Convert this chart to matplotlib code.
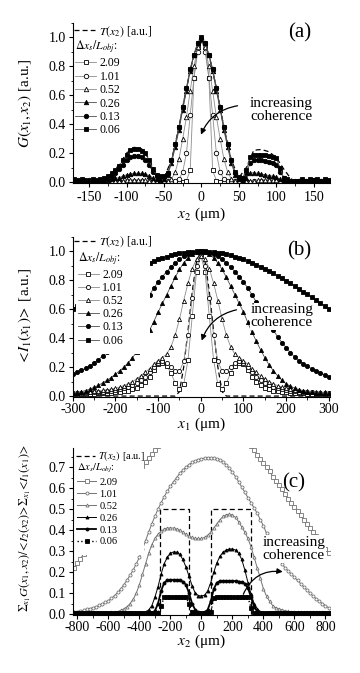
import numpy as np
import matplotlib
matplotlib.use('Agg')
import matplotlib.pyplot as plt
from matplotlib.patches import Rectangle
from matplotlib.ticker import MultipleLocator, FormatStrFormatter

plt.rcParams['font.family'] = ['Liberation Serif', 'DejaVu Serif']
plt.rcParams['mathtext.fontset'] = 'stix'
plt.rcParams['axes.unicode_minus'] = False

labels = ['2.09', '1.01', '0.52', '0.26', '0.13', '0.06']

# ---- panel (a): G(x1, x2) vs x2
a_x = np.arange(-170, 175, 5)
a_209 = [0.003, 0.002, 0.003, 0.002, 0.003, 0.002, 0.003, 0.002, 0.003, 0.002,
         0.003, 0.002, 0.003, 0.002, 0.003, 0.002, 0.003, 0.002, 0.003, 0.002,
         0.003, 0.002, 0.003, 0.002, 0.003, 0.002, 0.003, 0.002, 0.003, 0.003,
         0.01, 0.08, 0.72, 0.94, 0.98, 0.94, 0.72, 0.08, 0.01, 0.003,
         0.003, 0.002, 0.003, 0.002, 0.003, 0.002, 0.003, 0.002, 0.003, 0.002,
         0.003, 0.002, 0.003, 0.002, 0.003, 0.002, 0.003, 0.002, 0.003, 0.002,
         0.003, 0.002, 0.003, 0.002, 0.003, 0.002, 0.003, 0.002, 0.003]
a_101 = [0.004, 0.003, 0.004, 0.003, 0.004, 0.003, 0.004, 0.003, 0.004, 0.003,
         0.004, 0.003, 0.004, 0.003, 0.004, 0.003, 0.004, 0.003, 0.004, 0.003,
         0.004, 0.003, 0.004, 0.003, 0.004, 0.004, 0.005, 0.01, 0.02, 0.07,
         0.2, 0.46, 0.72, 0.9, 0.98, 0.9, 0.72, 0.46, 0.2, 0.07,
         0.02, 0.01, 0.005, 0.004, 0.004, 0.003, 0.004, 0.003, 0.004, 0.003,
         0.004, 0.003, 0.004, 0.003, 0.004, 0.003, 0.004, 0.003, 0.004, 0.003,
         0.004, 0.003, 0.004, 0.003, 0.004, 0.003, 0.004, 0.003, 0.004]
a_052 = [0.005, 0.006, 0.005, 0.006, 0.005, 0.006, 0.005, 0.006, 0.005, 0.006,
         0.006, 0.007, 0.008, 0.01, 0.012, 0.014, 0.015, 0.015, 0.014, 0.012,
         0.01, 0.008, 0.006, 0.005, 0.008, 0.01, 0.02, 0.07, 0.16, 0.3,
         0.45, 0.63, 0.8, 0.93, 0.98, 0.93, 0.8, 0.63, 0.45, 0.3,
         0.16, 0.07, 0.02, 0.01, 0.008, 0.005, 0.006, 0.008, 0.01, 0.012,
         0.014, 0.015, 0.015, 0.014, 0.012, 0.01, 0.008, 0.006, 0.005, 0.006,
         0.005, 0.006, 0.005, 0.006, 0.005, 0.006, 0.005, 0.006, 0.005]
a_026 = [0.005, 0.01, 0.005, 0.008, 0.01, 0.005, 0.008, 0.01, 0.01, 0.015,
         0.02, 0.025, 0.03, 0.04, 0.05, 0.055, 0.06, 0.06, 0.06, 0.055,
         0.045, 0.03, 0.02, 0.015, 0.02, 0.05, 0.13, 0.24, 0.36, 0.5,
         0.63, 0.77, 0.88, 0.96, 0.99, 0.96, 0.88, 0.77, 0.63, 0.5,
         0.36, 0.24, 0.13, 0.05, 0.02, 0.01, 0.03, 0.06, 0.065, 0.06,
         0.055, 0.05, 0.045, 0.04, 0.035, 0.02, 0.01, 0.008, 0.005, 0.008,
         0.005, 0.01, 0.005, 0.008, 0.01, 0.005, 0.008, 0.01, 0.005]
a_013 = [0.01, 0.015, 0.01, 0.01, 0.015, 0.01, 0.01, 0.015, 0.02, 0.03,
         0.045, 0.06, 0.09, 0.12, 0.15, 0.17, 0.18, 0.18, 0.17, 0.15,
         0.12, 0.07, 0.04, 0.035, 0.035, 0.06, 0.15, 0.26, 0.38, 0.52,
         0.65, 0.78, 0.88, 0.96, 0.99, 0.96, 0.88, 0.78, 0.65, 0.52,
         0.38, 0.26, 0.15, 0.065, 0.03, 0.025, 0.06, 0.13, 0.15, 0.15,
         0.15, 0.145, 0.14, 0.135, 0.12, 0.07, 0.03, 0.015, 0.01, 0.01,
         0.01, 0.015, 0.01, 0.01, 0.015, 0.01, 0.01, 0.015, 0.01]
a_006 = [0.02, 0.01, 0.02, 0.015, 0.01, 0.02, 0.015, 0.02, 0.03, 0.04,
         0.06, 0.08, 0.11, 0.15, 0.19, 0.22, 0.23, 0.225, 0.215, 0.2,
         0.15, 0.09, 0.05, 0.045, 0.04, 0.06, 0.15, 0.26, 0.38, 0.52,
         0.65, 0.78, 0.88, 0.96, 1.0, 0.96, 0.88, 0.78, 0.65, 0.52,
         0.38, 0.26, 0.15, 0.07, 0.035, 0.03, 0.08, 0.17, 0.19, 0.19,
         0.19, 0.185, 0.18, 0.175, 0.165, 0.1, 0.03, 0.02, 0.01, 0.005,
         0.01, 0.02, 0.01, 0.02, 0.015, 0.02, 0.01, 0.02, 0.015]
a_tx = [-170, -130, -120, -110, -100, -90, -80, -70, -60, -50,
        -40, -30, -20, -10, 0, 10, 20, 30, 40, 50,
        60, 70, 80, 90, 100, 110, 120, 130, 170]
a_t = [0, 0, 0.06, 0.12, 0.2, 0.24, 0.23, 0.16, 0.05, 0.03,
       0.15, 0.38, 0.65, 0.88, 1.0, 0.88, 0.65, 0.38, 0.15, 0.03,
       0.1, 0.22, 0.225, 0.21, 0.17, 0.09, 0.02, 0, 0]

# ---- panel (b): <I1(x1)> vs x1
b_x = np.arange(-300, 310, 10)
b_209 = [0.014, 0.014, 0.015, 0.015, 0.016, 0.017, 0.018, 0.019, 0.02, 0.022,
         0.025, 0.028, 0.032, 0.038, 0.046, 0.058, 0.075, 0.1, 0.13, 0.18,
         0.22, 0.23, 0.21, 0.16, 0.09, 0.05, 0.08, 0.25, 0.55, 0.86,
         0.97,
         0.86, 0.55, 0.25, 0.08, 0.05, 0.09, 0.16, 0.21, 0.23, 0.22,
         0.18, 0.13, 0.1, 0.075, 0.058, 0.046, 0.038, 0.032, 0.028, 0.025,
         0.022, 0.02, 0.019, 0.018, 0.017, 0.016, 0.015, 0.015, 0.014, 0.014]
b_101 = [0.02, 0.021, 0.022, 0.023, 0.025, 0.026, 0.028, 0.03, 0.033, 0.036,
         0.04, 0.046, 0.053, 0.063, 0.075, 0.09, 0.11, 0.135, 0.165, 0.2,
         0.23, 0.24, 0.23, 0.2, 0.17, 0.17, 0.24, 0.42, 0.68, 0.9,
         0.97,
         0.9, 0.68, 0.42, 0.24, 0.17, 0.17, 0.2, 0.23, 0.24, 0.23,
         0.2, 0.165, 0.135, 0.11, 0.09, 0.075, 0.063, 0.053, 0.046, 0.04,
         0.036, 0.033, 0.03, 0.028, 0.026, 0.025, 0.023, 0.022, 0.021, 0.02]
b_052 = [0.024, 0.025, 0.026, 0.028, 0.03, 0.032, 0.035, 0.039, 0.043, 0.048,
         0.054, 0.062, 0.072, 0.085, 0.1, 0.12, 0.14, 0.165, 0.19, 0.22,
         0.245, 0.265, 0.29, 0.34, 0.42, 0.53, 0.66, 0.78, 0.88, 0.95,
         0.97,
         0.95, 0.88, 0.78, 0.66, 0.53, 0.42, 0.34, 0.29, 0.265, 0.245,
         0.22, 0.19, 0.165, 0.14, 0.12, 0.1, 0.085, 0.072, 0.062, 0.054,
         0.048, 0.043, 0.039, 0.035, 0.032, 0.03, 0.028, 0.026, 0.025, 0.024]
b_026 = [0.02, 0.024, 0.03, 0.038, 0.048, 0.06, 0.074, 0.09, 0.108, 0.128,
         0.15, 0.175, 0.2, 0.23, 0.265, 0.305, 0.35, 0.4, 0.455, 0.515,
         0.58, 0.64, 0.7, 0.76, 0.82, 0.875, 0.92, 0.955, 0.98, 0.995,
         1.0,
         0.995, 0.98, 0.955, 0.92, 0.875, 0.82, 0.76, 0.7, 0.64, 0.58,
         0.51, 0.44, 0.38, 0.32, 0.265, 0.215, 0.175, 0.14, 0.11, 0.085,
         0.068, 0.055, 0.045, 0.037, 0.031, 0.027, 0.024, 0.021, 0.019, 0.018]
b_013 = [0.15, 0.163, 0.177, 0.192, 0.21, 0.23, 0.252, 0.276, 0.302, 0.33,
         0.36, 0.395, 0.43, 0.47, 0.51, 0.555, 0.6, 0.65, 0.7, 0.745,
         0.79, 0.825, 0.86, 0.89, 0.92, 0.945, 0.965, 0.98, 0.99, 0.998,
         1.0,
         0.998, 0.99, 0.98, 0.965, 0.945, 0.92, 0.89, 0.86, 0.825, 0.79,
         0.745, 0.7, 0.65, 0.6, 0.55, 0.5, 0.455, 0.41, 0.37, 0.335,
         0.3, 0.27, 0.245, 0.225, 0.205, 0.19, 0.175, 0.16, 0.147, 0.135]
b_006 = [0.601, 0.622, 0.642, 0.662, 0.682, 0.702, 0.722, 0.741, 0.76, 0.779,
         0.797, 0.815, 0.832, 0.849, 0.865, 0.88, 0.895, 0.909, 0.922, 0.934,
         0.945, 0.955, 0.964, 0.973, 0.98, 0.986, 0.991, 0.995, 0.998, 1.0,
         1.0,
         1.0, 0.998, 0.995, 0.991, 0.986, 0.98, 0.973, 0.964, 0.955, 0.945,
         0.934, 0.922, 0.909, 0.895, 0.88, 0.865, 0.849, 0.832, 0.815, 0.797,
         0.779, 0.76, 0.741, 0.722, 0.702, 0.682, 0.662, 0.642, 0.622, 0.601]
b_tx = [-300, -60, -50, -40, -30, -20, -10, 0, 10, 20, 30, 40, 50, 60, 300]
b_t = [0, 0, 0.03, 0.2, 0.45, 0.72, 0.93, 1.0, 0.93, 0.72, 0.45, 0.2, 0.03, 0, 0]

# ---- panel (c): normalised correlation vs x2
c_x = np.arange(-820, 840, 20)
c_209 = [0.22, 0.242, 0.264, 0.286, 0.308, 0.33, 0.352, 0.374, 0.396, 0.418,
         0.44, 0.462, 0.484, 0.506, 0.528, 0.55, 0.572, 0.594, 0.616, 0.638,
         0.66, 0.682, 0.704, 0.724, 0.744, 0.762, 0.78, 0.8, 0.82, 0.84,
         0.855, 0.87, 0.885, 0.9, 0.91, 0.92, 0.93, 0.935, 0.94, 0.945,
         0.95, 0.95, 0.95, 0.945, 0.94, 0.935, 0.925, 0.915, 0.905, 0.895,
         0.88, 0.87, 0.86, 0.85, 0.84, 0.83, 0.82, 0.8, 0.78, 0.76,
         0.74, 0.72, 0.7, 0.68, 0.655, 0.635, 0.615, 0.595, 0.57, 0.55,
         0.53, 0.51, 0.49, 0.47, 0.45, 0.43, 0.41, 0.39, 0.37, 0.35,
         0.33, 0.31, 0.29]
c_101 = [0.01, 0.012, 0.015, 0.018, 0.022, 0.026, 0.03, 0.035, 0.041, 0.048,
         0.056, 0.064, 0.075, 0.088, 0.103, 0.12, 0.14, 0.162, 0.185, 0.21,
         0.24, 0.27, 0.31, 0.35, 0.39, 0.43, 0.465, 0.5, 0.53, 0.56,
         0.585, 0.61, 0.63, 0.65, 0.67, 0.685, 0.7, 0.712, 0.722, 0.73,
         0.736, 0.74, 0.743, 0.745, 0.744, 0.742, 0.74, 0.735, 0.725, 0.71,
         0.695, 0.675, 0.655, 0.63, 0.605, 0.58, 0.555, 0.53, 0.505, 0.48,
         0.45, 0.42, 0.385, 0.35, 0.315, 0.285, 0.26, 0.24, 0.22, 0.205,
         0.19, 0.175, 0.16, 0.145, 0.13, 0.115, 0.1, 0.086, 0.073, 0.061,
         0.05, 0.04, 0.03]
c_052 = [0.005, 0.005, 0.005, 0.005, 0.005, 0.005, 0.005, 0.005, 0.005, 0.005,
         0.006, 0.007, 0.008, 0.01, 0.012, 0.018, 0.025, 0.035, 0.05, 0.07,
         0.1, 0.14, 0.19, 0.24, 0.29, 0.33, 0.36, 0.38, 0.395, 0.405,
         0.41, 0.41, 0.41, 0.405, 0.4, 0.39, 0.38, 0.37, 0.365, 0.36,
         0.36, 0.36, 0.365, 0.375, 0.39, 0.41, 0.43, 0.45, 0.465, 0.473,
         0.476, 0.472, 0.46, 0.44, 0.415, 0.39, 0.36, 0.32, 0.27, 0.22,
         0.17, 0.12, 0.085, 0.06, 0.04, 0.03, 0.025, 0.02, 0.016, 0.013,
         0.011, 0.01, 0.01, 0.01, 0.01, 0.01, 0.01, 0.01, 0.01, 0.01,
         0.01, 0.01, 0.01]
c_026 = [0.005, 0.005, 0.005, 0.005, 0.005, 0.005, 0.005, 0.005, 0.005, 0.005,
         0.005, 0.005, 0.005, 0.005, 0.005, 0.005, 0.005, 0.005, 0.005, 0.005,
         0.005, 0.005, 0.006, 0.01, 0.02, 0.04, 0.08, 0.13, 0.19, 0.24,
         0.27, 0.29, 0.296, 0.295, 0.285, 0.26, 0.225, 0.18, 0.135, 0.1,
         0.088, 0.086, 0.09, 0.11, 0.15, 0.2, 0.245, 0.275, 0.295, 0.305,
         0.31, 0.31, 0.305, 0.29, 0.26, 0.21, 0.15, 0.095, 0.05, 0.025,
         0.012, 0.006, 0.005, 0.005, 0.005, 0.005, 0.005, 0.005, 0.005, 0.005,
         0.005, 0.005, 0.005, 0.005, 0.005, 0.005, 0.005, 0.005, 0.005, 0.005,
         0.005, 0.005, 0.005]
c_013 = [0.005, 0.005, 0.005, 0.005, 0.005, 0.005, 0.005, 0.005, 0.005, 0.005,
         0.005, 0.005, 0.005, 0.005, 0.005, 0.005, 0.005, 0.005, 0.005, 0.005,
         0.005, 0.005, 0.005, 0.005, 0.005, 0.006, 0.015, 0.05, 0.11, 0.15,
         0.16, 0.163, 0.163, 0.162, 0.16, 0.155, 0.14, 0.1, 0.05, 0.02,
         0.008, 0.005, 0.008, 0.02, 0.06, 0.12, 0.15, 0.157, 0.158, 0.158,
         0.158, 0.158, 0.157, 0.155, 0.152, 0.145, 0.125, 0.08, 0.035, 0.012,
         0.006, 0.005, 0.005, 0.005, 0.005, 0.005, 0.005, 0.005, 0.005, 0.005,
         0.005, 0.005, 0.005, 0.005, 0.005, 0.005, 0.005, 0.005, 0.005, 0.005,
         0.005, 0.005, 0.005]
c_006 = [0.004, 0.004, 0.004, 0.004, 0.004, 0.004, 0.004, 0.004, 0.004, 0.004,
         0.004, 0.004, 0.004, 0.004, 0.004, 0.004, 0.004, 0.004, 0.004, 0.004,
         0.004, 0.004, 0.004, 0.004, 0.004, 0.004, 0.004, 0.006, 0.04, 0.08,
         0.082, 0.082, 0.082, 0.082, 0.082, 0.082, 0.08, 0.05, 0.008, 0.004,
         0.004, 0.004, 0.004, 0.004, 0.01, 0.075, 0.082, 0.082, 0.082, 0.082,
         0.082, 0.082, 0.082, 0.082, 0.082, 0.082, 0.08, 0.03, 0.004, 0.004,
         0.004, 0.004, 0.004, 0.004, 0.004, 0.004, 0.004, 0.004, 0.004, 0.004,
         0.004, 0.004, 0.004, 0.004, 0.004, 0.004, 0.004, 0.004, 0.004, 0.004,
         0.004, 0.004, 0.004]
c_tx = [-830, -265, -265, -80, -80, 60, 60, 322, 322, 830]
c_t = [0, 0, 0.5, 0.5, 0, 0, 0.5, 0.5, 0, 0]

# marker / face for each series (2.09 ... 0.06)
markers = ['s', 'o', '^', '^', 'o', 's']
faces = ['white', 'white', 'white', 'black', 'black', 'black']

fig = plt.figure(figsize=(3.6, 6.73), dpi=100)
ax_a = fig.add_axes([0.202, 0.728, 0.715, 0.238])
ax_b = fig.add_axes([0.202, 0.410, 0.715, 0.238])
ax_c = fig.add_axes([0.202, 0.086, 0.715, 0.248])


def style_axes(ax, xlim, ylim, xmaj, xmin, ymaj, ymin, xpad):
    ax.set_xlim(xlim)
    ax.set_ylim(ylim)
    ax.xaxis.set_major_locator(MultipleLocator(xmaj))
    ax.xaxis.set_minor_locator(MultipleLocator(xmin))
    ax.yaxis.set_major_locator(MultipleLocator(ymaj))
    ax.yaxis.set_minor_locator(MultipleLocator(ymin))
    ax.yaxis.set_major_formatter(FormatStrFormatter('%.1f'))
    for s in ['top', 'right']:
        ax.spines[s].set_visible(False)
    for s in ['left', 'bottom']:
        ax.spines[s].set_linewidth(0.8)
    ax.tick_params(direction='out', length=3, width=0.8, labelsize=10, pad=2)
    ax.tick_params(axis='x', pad=xpad)
    ax.tick_params(which='minor', direction='out', length=1.8, width=0.6)


def add_legends(ax, t_line, handles, t_anchor, anchor, fs, spacing, box):
    # white patch that hides the curves behind the legend
    ax.add_patch(Rectangle((box[0], box[1]), box[2] - box[0], 1.0 - box[1],
                           transform=ax.transAxes, facecolor='white',
                           edgecolor='none', zorder=4, clip_on=False))
    leg1 = ax.legend([t_line], [r'$T(x_2)$ [a.u.]'], loc='upper left',
                     bbox_to_anchor=t_anchor, frameon=False, fontsize=fs,
                     handlelength=1.8, handletextpad=0.3, borderaxespad=0,
                     borderpad=0.1)
    ax.add_artist(leg1)
    leg2 = ax.legend(handles, labels, title=r'$\Delta x_s/L_{obj}$:',
                     title_fontsize=fs, alignment='left', loc='upper left',
                     bbox_to_anchor=anchor, fontsize=fs, handlelength=1.8,
                     handletextpad=0.3, labelspacing=spacing, borderaxespad=0,
                     borderpad=0.2, frameon=False, numpoints=1)
    leg2.set_zorder(6)


def add_note(ax, txt_xy, tail, head, rad):
    ax.text(txt_xy[0], txt_xy[1], 'increasing\ncoherence', fontsize=11,
            ha='left', va='center', linespacing=1.0, zorder=7,
            bbox=dict(facecolor='white', edgecolor='none', pad=0.5))
    ax.annotate('', xy=head, xytext=tail, zorder=8,
                arrowprops=dict(arrowstyle='-|>', lw=0.9, color='black',
                                mutation_scale=8,
                                connectionstyle='arc3,rad=%s' % rad))


dash = (0, (4, 2.5))

# ---- (a)
t_a, = ax_a.plot(a_tx, a_t, color='black', ls=dash, lw=0.9)
lines_a = []
for y, m, f in zip([a_209, a_101, a_052, a_026, a_013, a_006], markers, faces):
    lc = '0.55' if f == 'white' else '0.3'
    ln, = ax_a.plot(a_x, y, color=lc, lw=0.6, marker=m, ms=3.2, mfc=f,
                    mec='black', mew=0.6)
    lines_a.append(ln)
style_axes(ax_a, (-172, 172), (-0.007, 1.1), 50, 25, 0.2, 0.1, 3)
ax_a.set_xlabel(r'$x_2$ (μm)', fontsize=11, labelpad=1)
ax_a.set_ylabel(r'$G(x_1,x_2)$ [a.u.]', fontsize=11)
ax_a.yaxis.set_label_coords(-0.15, 0.5)
add_legends(ax_a, t_a, lines_a, (0.0, 1.0), (0.0, 0.915), 8.5, 0.12,
            (0.01, 0.29, 0.30))
add_note(ax_a, (65, 0.5), (52, 0.53), (-2, 0.31), 0.3)
ax_a.text(0.88, 0.94, '(a)', transform=ax_a.transAxes, fontsize=15,
          ha='center', va='center')

# ---- (b)
t_b, = ax_b.plot(b_tx, b_t, color='black', ls=dash, lw=0.9)
lines_b = []
for y, m, f in zip([b_209, b_101, b_052, b_026, b_013, b_006], markers, faces):
    lc = '0.55' if f == 'white' else '0.3'
    ln, = ax_b.plot(b_x, y, color=lc, lw=0.6, marker=m, ms=3.0, mfc=f,
                    mec='black', mew=0.6)
    lines_b.append(ln)
style_axes(ax_b, (-300, 303), (-0.007, 1.1), 100, 50, 0.2, 0.1, 1)
ax_b.set_xlabel(r'$x_1$ (μm)', fontsize=11, labelpad=0)
ax_b.set_ylabel(r'$<\!I_1(x_1)\!>$ [a.u.]', fontsize=11)
ax_b.yaxis.set_label_coords(-0.15, 0.5)
add_legends(ax_b, t_b, lines_b, (0.0, 1.02), (0.01, 0.93), 8.5, 0.1,
            (0.013, 0.27, 0.30))
add_note(ax_b, (117, 0.55), (90, 0.6), (0, 0.365), 0.3)
ax_b.text(0.88, 0.91, '(b)', transform=ax_b.transAxes, fontsize=15,
          ha='center', va='center')

# ---- (c)
t_c, = ax_c.plot(c_tx, c_t, color='black', ls=dash, lw=0.9)
c_cols = ['0.45', '0.45', '0.45', 'black', 'black', 'black']
c_lw = [0.7, 0.7, 0.7, 0.7, 1.3, 1.0]
c_ls = ['-', '-', '-', '-', '-', ':']
lines_c = []
for y, m, f, col, lw, ls in zip([c_209, c_101, c_052, c_026, c_013, c_006],
                                markers, faces, c_cols, c_lw, c_ls):
    ln, = ax_c.plot(c_x, y, color=col, lw=lw, ls=ls, marker=m, ms=2.2,
                    mfc=f if f == 'white' else col, mec=col, mew=0.6)
    lines_c.append(ln)
style_axes(ax_c, (-830, 830), (-0.005, 0.79), 200, 100, 0.1, 0.05, 1)
ax_c.set_xlabel(r'$x_2$ (μm)', fontsize=11, labelpad=-1)
ax_c.set_ylabel(r'$\Sigma_{x_1}G(x_1,x_2)/\!<\!I_2(x_2)\!>\!\Sigma_{x_1}\!<\!I_1(x_1)\!>$',
                fontsize=8.8)
ax_c.yaxis.set_label_coords(-0.155, 0.52)
add_legends(ax_c, t_c, lines_c, (0.01, 1.0), (0.01, 0.93), 7.5, 0.25,
            (0.013, 0.36, 0.275))
add_note(ax_c, (392, 0.31), (263, 0.082), (542, 0.2), -0.4)
ax_c.text(0.86, 0.79, '(c)', transform=ax_c.transAxes, fontsize=15,
          ha='center', va='center')

fig.savefig('out.png', dpi=100)
